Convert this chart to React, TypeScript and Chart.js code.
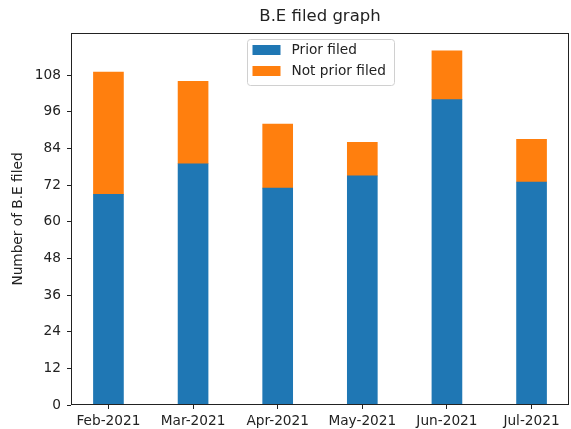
import { useEffect, useRef } from 'react';
import { Chart, registerables } from 'chart.js';

Chart.register(...registerables);

const months = ['Feb-2021', 'Mar-2021', 'Apr-2021', 'May-2021', 'Jun-2021', 'Jul-2021'];
const priorFiled = [69, 79, 71, 75, 100, 73];
const notPriorFiled = [40, 27, 21, 11, 16, 14];
const yTicks = [0, 12, 24, 36, 48, 60, 72, 84, 96, 108];
const seriesNames = ['Prior filed', 'Not prior filed'];
const seriesColors = ['#1f77b4', '#ff7f0e'];

const FONT = "'DejaVu Sans', sans-serif";
const SMALL = 13.7;

export default function App() {
  const ref = useRef<HTMLCanvasElement>(null);

  useEffect(() => {
    if (!ref.current) return;

    const framePlugin = {
      id: 'frame',
      afterDatasetsDraw(chart: any) {
        const { ctx, chartArea: a } = chart;
        ctx.save();
        ctx.strokeStyle = '#222';
        ctx.lineWidth = 1;
        const l = Math.floor(a.left) + 0.5;
        const t = Math.floor(a.top) + 0.5;
        const r = Math.ceil(a.right) - 0.5;
        const b = Math.ceil(a.bottom) - 0.5;
        ctx.strokeRect(l, t, r - l, b - t);
        ctx.restore();
      },
    };

    const legendPlugin = {
      id: 'innerLegend',
      afterDraw(chart: any) {
        const { ctx, chartArea: a } = chart;
        const w = 147;
        const h = 46;
        const cx = (a.left + a.right) / 2;
        const x = Math.round(cx - w / 2) + 0.5;
        const y = Math.round(a.top + 6) + 0.5;
        ctx.save();
        ctx.beginPath();
        const rr = 3;
        ctx.moveTo(x + rr, y);
        ctx.lineTo(x + w - rr, y);
        ctx.quadraticCurveTo(x + w, y, x + w, y + rr);
        ctx.lineTo(x + w, y + h - rr);
        ctx.quadraticCurveTo(x + w, y + h, x + w - rr, y + h);
        ctx.lineTo(x + rr, y + h);
        ctx.quadraticCurveTo(x, y + h, x, y + h - rr);
        ctx.lineTo(x, y + rr);
        ctx.quadraticCurveTo(x, y, x + rr, y);
        ctx.closePath();
        ctx.fillStyle = 'rgba(255,255,255,0.8)';
        ctx.fill();
        ctx.strokeStyle = '#d0d0d0';
        ctx.lineWidth = 1;
        ctx.stroke();
        ctx.font = `${SMALL}px ${FONT}`;
        ctx.textBaseline = 'middle';
        ctx.textAlign = 'left';
        seriesNames.forEach((name, i) => {
          const rowY = y + 10.5 + i * 21;
          ctx.fillStyle = seriesColors[i];
          ctx.fillRect(x + 5, rowY - 5, 28, 10);
          ctx.fillStyle = '#222';
          ctx.fillText(name, x + 44, rowY);
        });
        ctx.restore();
      },
    };

    const chart = new Chart(ref.current, {
      type: 'bar',
      data: {
        datasets: [
          {
            label: seriesNames[0],
            data: priorFiled.map((v, i) => ({ x: i, y: v })),
            backgroundColor: seriesColors[0],
            barThickness: 30,
          },
          {
            label: seriesNames[1],
            data: notPriorFiled.map((v, i) => ({ x: i, y: v })),
            backgroundColor: seriesColors[1],
            barThickness: 30,
          },
        ],
      },
      options: {
        animation: false,
        responsive: false,
        devicePixelRatio: 1,
        layout: { padding: { left: 0, right: 2, top: 0, bottom: 0 } },
        plugins: {
          legend: { display: false },
          tooltip: { enabled: false },
          title: {
            display: true,
            text: 'B.E filed graph',
            fullSize: false,
            color: '#222',
            font: { family: FONT, size: 16.5, weight: 'normal' },
            padding: { top: 7, bottom: 6.2 },
          },
        },
        scales: {
          x: {
            type: 'linear',
            min: -0.4425,
            max: 5.4425,
            offset: false,
            stacked: true,
            grid: {
              display: true,
              offset: false,
              drawOnChartArea: false,
              drawTicks: true,
              tickLength: 4,
              color: '#222',
            },
            border: { display: false },
            afterBuildTicks(scale: any) {
              scale.ticks = months.map((_, i) => ({ value: i }));
            },
            afterFit(scale: any) {
              scale.height = 24;
            },
            ticks: {
              autoSkip: false,
              maxRotation: 0,
              padding: 4.5,
              color: '#222',
              font: { family: FONT, size: SMALL },
              callback: (v: any) => months[v as number] ?? '',
            },
          },
          y: {
            type: 'linear',
            min: 0,
            max: 121.8,
            stacked: true,
            grid: {
              display: true,
              drawOnChartArea: false,
              drawTicks: true,
              tickLength: 4,
              color: '#222',
            },
            border: { display: false },
            afterBuildTicks(scale: any) {
              scale.ticks = yTicks.map((v) => ({ value: v }));
            },
            afterFit(scale: any) {
              scale.width = 71;
            },
            ticks: {
              padding: 6,
              color: '#222',
              font: { family: FONT, size: SMALL },
              callback: (v: any) => String(v),
            },
            title: {
              display: true,
              text: 'Number of B.E filed',
              color: '#222',
              font: { family: FONT, size: SMALL },
              padding: { top: 10, bottom: 0 },
            },
          },
        },
      },
      plugins: [framePlugin, legendPlugin],
    } as any);

    return () => chart.destroy();
  }, []);

  return (
    <canvas
      ref={ref}
      width={571}
      height={429}
      style={{ position: 'fixed', left: 0, top: 0, width: 571, height: 429 }}
    />
  );
}
